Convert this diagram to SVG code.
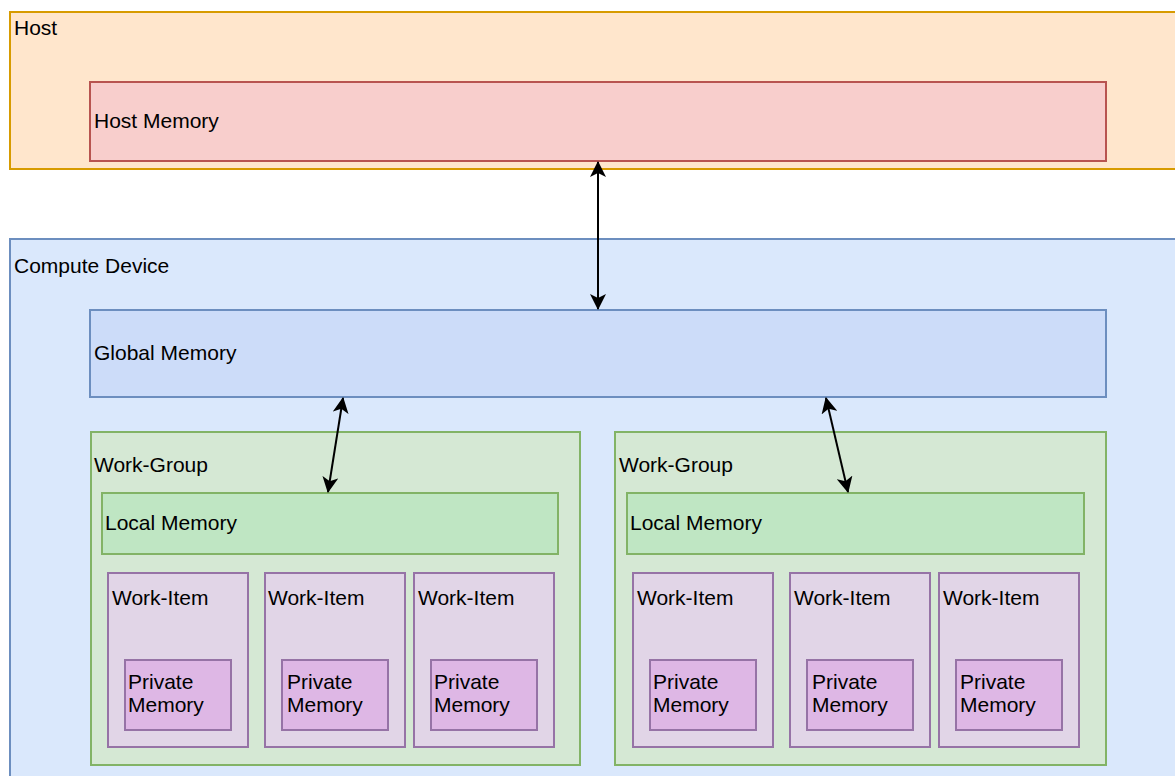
<svg xmlns="http://www.w3.org/2000/svg" width="1175" height="776" viewBox="0 0 1175 776">
  <style>
    text { font-family: "Liberation Sans", Arial, sans-serif; font-size: 21px; fill: #000; }
    rect { stroke-width: 2; }
    .host { fill: #ffe6cc; stroke: #d79b00; }
    .hostmem { fill: #f8cecc; stroke: #b85450; }
    .device { fill: #dae8fc; stroke: #6c8ebf; }
    .globalmem { fill: #ccdcf9; stroke: #6c8ebf; }
    .group { fill: #d5e8d4; stroke: #82b366; }
    .localmem { fill: #bfe6c3; stroke: #82b366; }
    .item { fill: #e1d5e7; stroke: #9673a6; }
    .privmem { fill: #deb7e5; stroke: #9673a6; }
    .link { stroke: #000; stroke-width: 2; fill: none; marker-start: url(#head); marker-end: url(#head); }
  </style>
  <defs>
    <marker id="head" viewBox="0 0 16 16" refX="15" refY="8" markerWidth="16" markerHeight="16" markerUnits="userSpaceOnUse" orient="auto-start-reverse">
      <path d="M0,0 L16,8 L0,16 L4,8 z" fill="#000"/>
    </marker>
  </defs>

  <g id="host">
    <rect class="host" x="10" y="12" width="1180" height="157"/>
    <text x="14" y="35">Host</text>
  </g>
  <g id="host-memory">
    <rect class="hostmem" x="90" y="82" width="1016" height="79"/>
    <text x="94" y="128">Host Memory</text>
  </g>

  <g id="compute-device">
    <rect class="device" x="10" y="239" width="1180" height="560"/>
    <text x="14" y="273">Compute Device</text>
  </g>
  <g id="global-memory">
    <rect class="globalmem" x="90" y="310" width="1016" height="87"/>
    <text x="94" y="360">Global Memory</text>
  </g>

  <!-- work-group 1 -->
  <g id="work-group-1">
    <rect class="group" x="91" y="432" width="489" height="333"/>
    <text x="94" y="472">Work-Group</text>
  </g>
  <g id="local-memory-1">
    <rect class="localmem" x="102" y="493" width="456" height="61"/>
    <text x="105" y="530">Local Memory</text>
  </g>
  <g id="work-item-1a">
    <rect class="item" x="108" y="573" width="140" height="174"/>
    <text x="112" y="605">Work-Item</text>
  </g>
  <g id="private-memory-1a">
    <rect class="privmem" x="125" y="660" width="106" height="70"/>
    <text x="128" y="689">Private</text>
    <text x="128" y="712">Memory</text>
  </g>
  <g id="work-item-1b">
    <rect class="item" x="265" y="573" width="140" height="174"/>
    <text x="268" y="605">Work-Item</text>
  </g>
  <g id="private-memory-1b">
    <rect class="privmem" x="282" y="660" width="106" height="70"/>
    <text x="287" y="689">Private</text>
    <text x="287" y="712">Memory</text>
  </g>
  <g id="work-item-1c">
    <rect class="item" x="414" y="573" width="140" height="174"/>
    <text x="418" y="605">Work-Item</text>
  </g>
  <g id="private-memory-1c">
    <rect class="privmem" x="431" y="660" width="106" height="70"/>
    <text x="434" y="689">Private</text>
    <text x="434" y="712">Memory</text>
  </g>

  <!-- work-group 2 -->
  <g id="work-group-2">
    <rect class="group" x="615" y="432" width="491" height="333"/>
    <text x="619" y="472">Work-Group</text>
  </g>
  <g id="local-memory-2">
    <rect class="localmem" x="627" y="493" width="457" height="61"/>
    <text x="630" y="530">Local Memory</text>
  </g>
  <g id="work-item-2a">
    <rect class="item" x="633" y="573" width="140" height="174"/>
    <text x="637" y="605">Work-Item</text>
  </g>
  <g id="private-memory-2a">
    <rect class="privmem" x="650" y="660" width="106" height="70"/>
    <text x="653" y="689">Private</text>
    <text x="653" y="712">Memory</text>
  </g>
  <g id="work-item-2b">
    <rect class="item" x="790" y="573" width="140" height="174"/>
    <text x="794" y="605">Work-Item</text>
  </g>
  <g id="private-memory-2b">
    <rect class="privmem" x="807" y="660" width="106" height="70"/>
    <text x="812" y="689">Private</text>
    <text x="812" y="712">Memory</text>
  </g>
  <g id="work-item-2c">
    <rect class="item" x="939" y="573" width="140" height="174"/>
    <text x="943" y="605">Work-Item</text>
  </g>
  <g id="private-memory-2c">
    <rect class="privmem" x="956" y="660" width="106" height="70"/>
    <text x="960" y="689">Private</text>
    <text x="960" y="712">Memory</text>
  </g>

  <g id="connectors">
    <line class="link" x1="598" y1="162" x2="598" y2="309"/>
    <line class="link" x1="343" y1="398" x2="328" y2="492"/>
    <line class="link" x1="826" y1="398" x2="848" y2="492"/>
  </g>
</svg>
